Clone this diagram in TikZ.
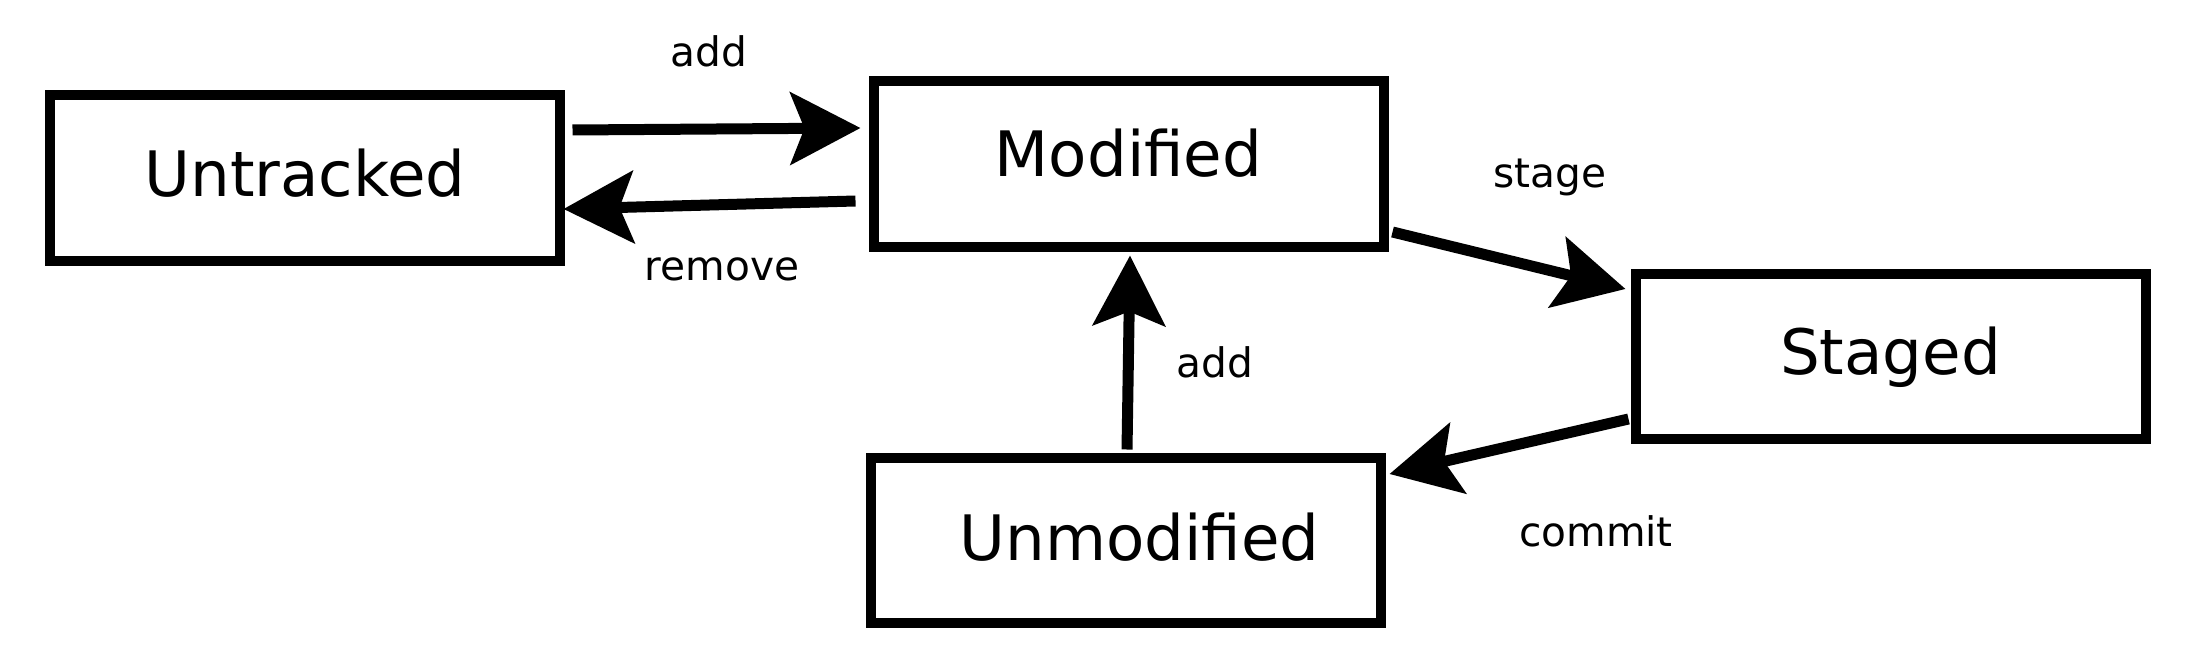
\documentclass[tikz,border=0pt]{standalone}
\usepackage{fontspec}
\setmainfont{DejaVu Sans}
\usetikzlibrary{arrows.meta,calc}
\tikzset{
  state/.style={draw=black, line width=3pt, fill=white, minimum width=510*0.3pt, minimum height=165*0.3pt,
    inner sep=0pt, text height=0.73em, text depth=0pt, font=\fontsize{18.8}{22}\selectfont},
  trans/.style={line width=3.3pt, -{Stealth[length=21pt, width=21.6pt, inset=4.2pt]}},
  tlabel/.style={anchor=base, inner sep=0pt, font=\fontsize{12.2}{15}\selectfont}
}
\begin{document}
\begin{tikzpicture}[x=0.3pt, y=-0.3pt]
\useasboundingbox (0,0) rectangle (2188,670);
\node[state, text height=0.73em+3.6pt] (u)  at (305,178)    {Untracked};
\node[state] (m)  at (1128.5,164) {Modified};
\node[state, text height=0.73em+3.6pt] (s)  at (1890.5,356.5) {Staged};
\node[state, text height=0.73em+4.8pt] (un) at (1125.5,540) {\hspace*{8.4pt}Unmodified};

\draw[trans] ($(u.east)+(7.5,-48)$) -- ($(m.west)+(-8,-36)$);
\draw[trans] ($(m.west)+(-13,37)$) -- ($(u.east)+(-1.5,31)$);
\draw[trans] ($(m.east)+(4,68)$) -- ($(s.west)+(-5,-67.5)$);
\draw[trans] ($(s.west)+(-2,62.5)$) -- ($(un.east)+(4,-66)$);
\draw[trans] ($(un.north)+(1.5,-3)$) -- ($(m.south)+(1.5,4)$);

\node[tlabel] (la) at (709,67) {add};
\node[tlabel] (lr) at (722,280) {remove};
\node[tlabel] (ls) at (1550,187) {stage};
\node[tlabel] (lc) at (1596,546) {commit};
\node[tlabel] (lv) at (1215,377) {add};
\end{tikzpicture}
\end{document}
